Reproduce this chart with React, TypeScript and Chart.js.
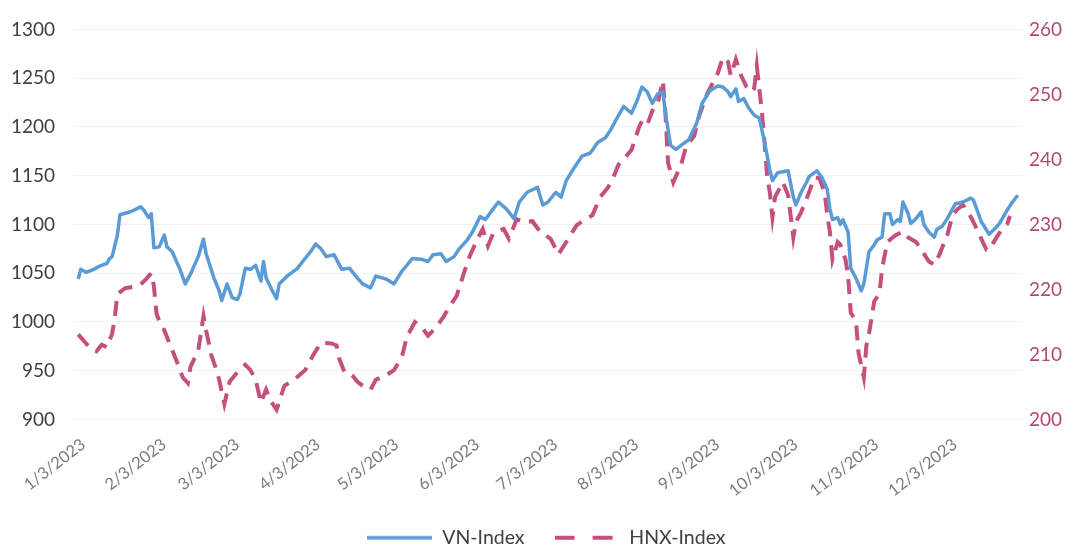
import React, { useEffect, useRef } from 'react';
import { Chart, registerables } from 'chart.js';

Chart.register(...registerables);

// Day of year 2023 (1 = Jan 1) for each sampled VN-Index reading
const vnDays = [3, 4, 6, 9, 11, 14, 15, 16, 18, 19, 23, 27, 28, 30, 31, 32, 34, 36, 37, 39, 42, 44, 46, 47, 49, 51, 52, 55, 57, 58, 60, 62, 64, 65, 67, 69, 71, 73, 74, 75, 77, 79, 80, 83, 87, 89, 92, 94, 96, 98, 101, 104, 107, 110, 112, 115, 117, 121, 124, 127, 131, 135, 137, 139, 142, 144, 147, 149, 152, 154, 157, 159, 162, 164, 167, 170, 172, 175, 179, 181, 183, 186, 188, 190, 193, 196, 199, 200, 202, 205, 207, 209, 212, 215, 217, 219, 221, 223, 225, 227, 228, 230, 232, 234, 237, 240, 242, 245, 248, 250, 252, 253, 255, 256, 258, 260, 262, 264, 266, 268, 269, 271, 275, 277, 278, 280, 282, 283, 286, 288, 290, 291, 292, 294, 295, 296, 298, 299, 301, 303, 304, 306, 308, 309, 311, 312, 314, 315, 317, 318, 319, 321, 322, 324, 326, 327, 329, 331, 332, 334, 336, 339, 342, 345, 346, 349, 352, 354, 356, 359, 361, 363];
const vnValues = [1044, 1054, 1051, 1054, 1057, 1060, 1065, 1067, 1089, 1110, 1113, 1118, 1115, 1107, 1111, 1076, 1077, 1089, 1077, 1072, 1054, 1039, 1049, 1055, 1067, 1085, 1070, 1045, 1032, 1022, 1039, 1025, 1023, 1029, 1055, 1054, 1058, 1042, 1062, 1045, 1034, 1024, 1039, 1047, 1055, 1062, 1072, 1080, 1075, 1067, 1069, 1054, 1055, 1045, 1039, 1035, 1047, 1044, 1039, 1052, 1065, 1064, 1062, 1069, 1070, 1062, 1067, 1075, 1084, 1092, 1108, 1105, 1116, 1123, 1116, 1106, 1123, 1133, 1138, 1120, 1123, 1133, 1128, 1145, 1158, 1170, 1173, 1176, 1184, 1189, 1197, 1207, 1221, 1214, 1226, 1241, 1236, 1224, 1234, 1236, 1214, 1181, 1177, 1181, 1187, 1204, 1224, 1237, 1242, 1241, 1236, 1231, 1239, 1226, 1229, 1219, 1212, 1209, 1184, 1156, 1145, 1153, 1155, 1128, 1120, 1133, 1143, 1149, 1155, 1148, 1136, 1116, 1105, 1107, 1100, 1105, 1092, 1055, 1045, 1032, 1039, 1072, 1079, 1084, 1087, 1111, 1111, 1100, 1105, 1103, 1123, 1111, 1101, 1106, 1113, 1100, 1092, 1087, 1095, 1098, 1106, 1121, 1123, 1127, 1125, 1103, 1090, 1095, 1101, 1115, 1123, 1130];

// Day of year 2023 for each sampled HNX-Index reading
const hnxDays = [3, 6, 8, 10, 12, 14, 16, 17, 18, 21, 24, 27, 29, 31, 32, 33, 34, 36, 38, 41, 43, 45, 46, 49, 51, 52, 54, 56, 57, 59, 61, 64, 67, 69, 71, 73, 75, 77, 79, 82, 86, 90, 93, 96, 100, 102, 103, 105, 108, 110, 112, 115, 117, 121, 124, 127, 129, 132, 135, 137, 140, 143, 145, 148, 151, 153, 156, 158, 160, 162, 164, 166, 168, 171, 174, 177, 180, 184, 187, 190, 194, 197, 200, 203, 206, 208, 210, 212, 215, 218, 219, 221, 223, 225, 227, 228, 229, 231, 234, 236, 239, 241, 244, 248, 250, 252, 253, 255, 257, 259, 261, 262, 263, 265, 266, 267, 268, 269, 270, 273, 275, 277, 278, 280, 283, 285, 287, 289, 290, 291, 292, 294, 295, 297, 298, 299, 301, 302, 304, 305, 306, 308, 310, 311, 313, 316, 319, 321, 324, 326, 329, 331, 333, 336, 338, 340, 342, 344, 346, 349, 351, 352, 355, 357, 359, 360];
const hnxValues = [213.1, 211.7, 210.9, 210.5, 211.5, 211.1, 213.2, 215.6, 219.3, 220.2, 220.4, 220.8, 221.6, 222.5, 220.5, 216.3, 215.2, 213.7, 211.7, 208.7, 206.5, 205.6, 208.1, 210.6, 215.9, 213.7, 209.9, 207.6, 206.1, 202.4, 205.8, 207.3, 208.4, 207.6, 206.1, 202.6, 204.6, 202.7, 201.5, 205.2, 206.2, 207.6, 209.9, 211.8, 211.7, 211.4, 209.4, 207.3, 206.8, 205.8, 205.2, 204.6, 206.1, 206.8, 207.6, 209.6, 212.8, 215.0, 214.0, 212.9, 214.1, 215.8, 217.2, 219.0, 222.8, 225.1, 227.8, 229.3, 226.7, 228.6, 229.0, 229.3, 227.8, 230.8, 230.4, 230.5, 228.9, 227.8, 225.4, 227.3, 229.9, 230.7, 231.4, 234.2, 235.7, 237.2, 239.2, 240.0, 241.5, 245.1, 245.9, 245.3, 247.5, 248.6, 252.1, 247.1, 239.5, 236.5, 239.2, 242.1, 243.6, 246.8, 250.1, 253.2, 255.7, 255.0, 252.9, 255.4, 252.9, 251.2, 250.4, 250.9, 254.4, 247.1, 242.5, 237.2, 234.9, 231.1, 234.2, 236.5, 234.5, 228.0, 230.4, 231.9, 234.9, 237.2, 237.1, 234.9, 231.4, 228.9, 224.6, 227.3, 226.9, 224.6, 222.0, 216.4, 215.2, 210.2, 206.5, 211.4, 213.2, 218.2, 219.3, 223.2, 227.3, 228.3, 228.9, 228.0, 227.3, 226.1, 224.3, 223.8, 225.4, 228.4, 231.4, 232.4, 233.0, 231.9, 230.4, 227.8, 226.1, 226.1, 228.1, 229.3, 230.1, 231.3];

const tickDays = [3, 34, 62, 93, 123, 154, 184, 215, 246, 276, 307, 337];
const tickLabels = ['1/3/2023', '2/3/2023', '3/3/2023', '4/3/2023', '5/3/2023', '6/3/2023', '7/3/2023', '8/3/2023', '9/3/2023', '10/3/2023', '11/3/2023', '12/3/2023'];

const seriesNames = ['VN-Index', 'HNX-Index'];

const FONT = 'Lato, "Open Sans", sans-serif';
const BLUE = '#5b9bd5';
const PINK = '#c5507e';

function makeSwatch(color: string, width: number, dash: number[]) {
  const c = document.createElement('canvas');
  c.width = 65;
  c.height = 8;
  const g = c.getContext('2d') as CanvasRenderingContext2D;
  g.strokeStyle = color;
  g.lineWidth = width;
  g.setLineDash(dash);
  g.beginPath();
  g.moveTo(0, 4);
  g.lineTo(65, 4);
  g.stroke();
  return c;
}

// nudges the centred legend row slightly right, as in the reference
const legendShift = {
  id: 'legendShift',
  afterLayout(chart: any) {
    if (chart.legend) {
      chart.legend.left += 9;
      chart.legend.right += 9;
    }
  },
};

export default function App() {
  const ref = useRef<HTMLCanvasElement>(null);

  useEffect(() => {
    document.body.style.margin = '0';
    const swatches = [makeSwatch(BLUE, 3.5, []), makeSwatch(PINK, 4, [20, 18])];
    const chart = new Chart(ref.current as HTMLCanvasElement, {
      type: 'line',
      plugins: [legendShift],
      data: {
        datasets: [
          {
            label: seriesNames[0],
            data: vnDays.map((d, i) => ({ x: d, y: vnValues[i] })),
            borderColor: BLUE,
            backgroundColor: BLUE,
            borderWidth: 3.5,
            borderJoinStyle: 'round',
            pointRadius: 0,
            tension: 0,
            yAxisID: 'y',
          },
          {
            label: seriesNames[1],
            data: hnxDays.map((d, i) => ({ x: d, y: hnxValues[i] })),
            borderColor: PINK,
            backgroundColor: PINK,
            borderWidth: 4,
            borderDash: [15, 9],
            pointRadius: 0,
            tension: 0,
            yAxisID: 'y1',
          },
        ],
      },
      options: {
        animation: false,
        responsive: true,
        maintainAspectRatio: false,
        layout: { padding: { left: 0, right: 0, top: 25, bottom: -10.5 } },
        plugins: {
          tooltip: { enabled: false },
          legend: {
            position: 'bottom',
            labels: {
              usePointStyle: true,
              pointStyleWidth: 65,
              padding: 30,
              color: '#404040',
              font: { family: FONT, size: 19.5 },
              generateLabels: (c: any) =>
                (Chart.defaults.plugins.legend.labels as any).generateLabels(c).map((l: any, i: number) => ({
                  ...l,
                  pointStyle: swatches[l.datasetIndex ?? i],
                })),
            },
          },
        },
        scales: {
          x: {
            type: 'linear',
            min: 1,
            max: 365,
            grid: { display: false },
            border: { display: false },
            afterBuildTicks: (s: any) => {
              s.ticks = tickDays.map((v) => ({ value: v }));
            },
            afterFit: (s: any) => {
              s.height = 78.5;
            },
            ticks: {
              autoSkip: false,
              minRotation: 38,
              maxRotation: 38,
              padding: 7,
              labelOffset: 5,
              color: '#7a7a7a',
              font: { family: FONT, size: 16.5 },
              callback: (v: any) => {
                const i = tickDays.indexOf(Number(v));
                return i >= 0 ? tickLabels[i] : '';
              },
            },
          },
          y: {
            position: 'left',
            min: 900,
            max: 1300,
            grid: { color: '#f1f1f1', drawTicks: false },
            border: { display: false },
            afterFit: (s: any) => {
              s.width = 73;
            },
            ticks: {
              stepSize: 50,
              padding: 18,
              color: '#404040',
              font: { family: FONT, size: 19 },
              callback: (v: any) => String(v),
            },
          },
          y1: {
            position: 'right',
            min: 200,
            max: 260,
            grid: { display: false, drawTicks: false },
            border: { display: false },
            afterFit: (s: any) => {
              s.width = 52;
            },
            ticks: {
              stepSize: 10,
              padding: 6,
              color: '#b04a74',
              font: { family: FONT, size: 19 },
              callback: (v: any) => String(v),
            },
          },
        },
      },
    } as any);
    return () => chart.destroy();
  }, []);

  return (
    <div style={{ width: 1075, height: 547, position: 'relative' }}>
      <canvas ref={ref} />
    </div>
  );
}
